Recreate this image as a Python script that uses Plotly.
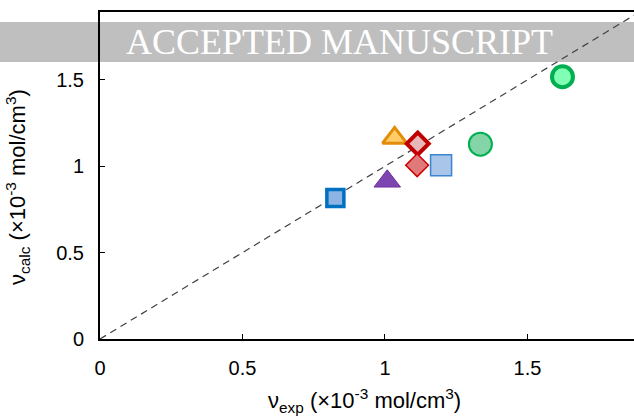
import plotly.graph_objects as go

# Measured vs. calculated crosslink density (x10^-3 mol/cm^3)
nu_exp = [0.826, 1.008, 1.034, 1.115, 1.113, 1.197, 1.335, 1.623]
nu_calc = [0.816, 0.913, 1.164, 1.131, 1.006, 1.006, 1.128, 1.518]
symbols = ["square", "triangle-up", "triangle-up", "diamond", "diamond",
           "square", "circle", "circle"]
fills = ["#8db4e2", "#7d45b0", "#ffcc66", "#e6b8b7", "#e07a7a",
         "#a9c6ea", "#83d4a6", "#80ffb4"]
edges = ["#0070c0", "#7030a0", "#e38c08", "#c00000", "#d00000",
         "#3d85d0", "#00b050", "#00b050"]
edge_w = [3.5, 1.0, 3.0, 4.0, 1.5, 1.5, 2.0, 4.0]
sizes = [17, 23, 21, 17, 17.5, 21, 23, 21]

x_max = 1.874
y_max = 1.893

fig = go.Figure()

# parity line y = x
fig.add_trace(go.Scatter(
    x=[0, 2], y=[0, 2], mode="lines",
    line=dict(color="#404040", width=1.2, dash="7px,5px"),
    hoverinfo="skip", showlegend=False,
))

for xv, yv, sym, fc, ec, lw, sz in zip(nu_exp, nu_calc, symbols, fills,
                                        edges, edge_w, sizes):
    fig.add_trace(go.Scatter(
        x=[xv], y=[yv], mode="markers", showlegend=False,
        marker=dict(symbol=sym, size=sz, color=fc,
                    line=dict(color=ec, width=lw)),
    ))

font = dict(family="Liberation Sans, Arial, sans-serif", size=20, color="black")
title_font = dict(family="Liberation Sans, Arial, sans-serif", size=22,
                  color="black")

fig.update_layout(
    width=634, height=416,
    margin=dict(l=100, r=0, t=12, b=77),
    paper_bgcolor="white", plot_bgcolor="white",
    font=font,
    xaxis=dict(range=[0, x_max], tickvals=[0, 0.5, 1, 1.5],
               ticktext=["0", "0.5", "1", "1.5"],
               ticks="inside", ticklen=5, tickwidth=1, tickcolor="black",
               showline=True, linecolor="black", linewidth=2, mirror=True,
               showgrid=False, zeroline=False, ticklabelstandoff=10),
    yaxis=dict(range=[0, y_max], tickvals=[0, 0.5, 1, 1.5],
               ticktext=["0", "0.5", "1", "1.5"],
               ticks="inside", ticklen=5, tickwidth=1, tickcolor="black",
               showline=True, linecolor="black", linewidth=2,
               showgrid=False, zeroline=False, ticklabelstandoff=10),
    shapes=[dict(type="rect", xref="paper", yref="paper",
                 x0=-0.2, x1=1.0, y0=0.847, y1=0.9694,
                 fillcolor="#bfbfbf", line=dict(width=0), layer="below")],
    annotations=[
        dict(text="ACCEPTED MANUSCRIPT", xref="paper", yref="paper",
             x=0.4485, y=0.908, xanchor="center", yanchor="middle",
             showarrow=False,
             font=dict(family="Liberation Serif, Times New Roman, serif",
                       size=36, color="white")),
        dict(text="ν<sub>exp</sub> (×10<sup>-3</sup> mol/cm<sup>3</sup>)",
             xref="paper", yref="paper", x=0.496, y=-0.135,
             xanchor="center", yanchor="top", showarrow=False,
             font=title_font),
        dict(text="ν<sub>calc</sub> (×10<sup>-3</sup> mol/cm<sup>3</sup>)",
             xref="paper", yref="paper", x=-0.1536, y=0.465,
             xanchor="center", yanchor="middle", textangle=-90,
             showarrow=False, font=title_font),
    ],
)

fig.write_html("out.html")
